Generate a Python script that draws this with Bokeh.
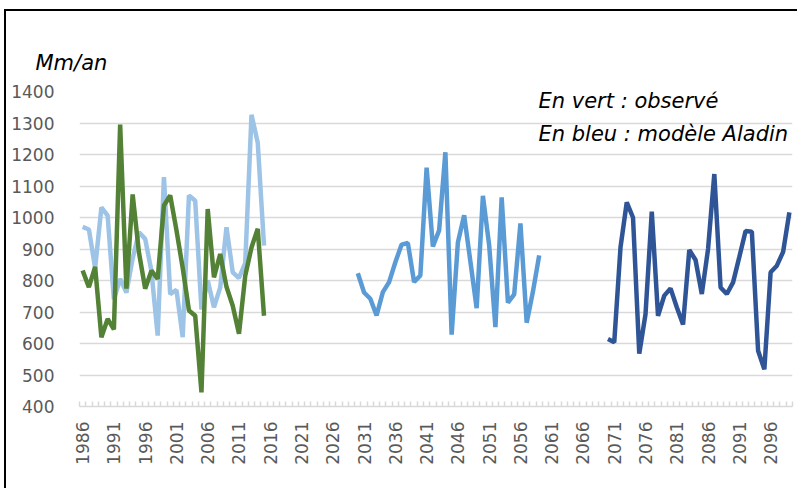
import math
from bokeh.plotting import figure
from bokeh.models import FixedTicker, Label, Range1d
from bokeh.embed import file_html
from bokeh.resources import INLINE

# ---- data ----
years_hist = list(range(1986, 2016))
model_hist = [970, 962, 840, 1032, 1006, 740, 805, 762, 870, 953,
              932, 830, 625, 1128, 757, 770, 620, 1070, 1053, 708,
              800, 715, 778, 969, 826, 808, 855, 1326, 1237, 911]
observed = [832, 779, 843, 620, 678, 645, 1295, 774, 1073, 890,
            774, 831, 805, 1038, 1070, 960, 840, 705, 688, 445,
            1027, 810, 884, 780, 720, 631, 815, 905, 964, 688]
years_mid = list(range(2030, 2060))
model_mid = [823, 762, 742, 689, 763, 795, 858, 914, 919, 795,
             816, 1158, 908, 959, 1207, 628, 921, 1007, 860, 712,
             1069, 912, 652, 1064, 730, 756, 981, 666, 765, 880]
years_end = list(range(2070, 2100))
model_end = [614, 604, 905, 1048, 1000, 568, 693, 1019, 688, 752,
             775, 715, 660, 897, 865, 757, 900, 1138, 778, 757,
             794, 875, 957, 955, 577, 518, 826, 847, 891, 1016]
tick_years = list(range(1986, 2100, 5))
y_ticks = list(range(400, 1500, 100))
first_year, last_year = 1986, 2099
unit_label = "Mm/an"
note_lines = ["En vert : observé", "En bleu : modèle Aladin"]

W, H = 793, 479
BL, BR, BT, BB = 73, 7, 80, 84
p = figure(width=W, height=H, output_backend="svg", toolbar_location=None,
           x_range=Range1d(first_year - 0.5, last_year + 0.5),
           y_range=Range1d(400, 1400),
           min_border_left=BL, min_border_right=BR,
           min_border_top=BT, min_border_bottom=BB,
           title=unit_label)
p.styles = {"margin-left": "4px", "margin-top": "9px",
            "border-left": "2px solid black", "border-top": "2px solid black"}
p.outline_line_color = None
p.background_fill_color = "white"
p.border_fill_color = "white"

p.title.text_font = "DejaVu Sans"
p.title.text_font_style = "italic"
p.title.text_font_size = "21px"
p.title.text_color = "black"
p.title.align = "left"
p.title.offset = -44
p.title.standoff = 33

GRID = "#d9d9d9"
LAB = "#595959"

# x axis
p.xaxis.ticker = FixedTicker(ticks=tick_years,
                             minor_ticks=[y + 0.5 for y in range(first_year - 1, last_year + 1)])
p.xaxis.major_tick_line_color = None
p.xaxis.major_tick_in = 0
p.xaxis.major_tick_out = 0
p.xaxis.minor_tick_line_color = GRID
p.xaxis.minor_tick_line_width = 1.5
p.xaxis.minor_tick_in = 5
p.xaxis.minor_tick_out = 0
p.xaxis.axis_line_color = GRID
p.xaxis.axis_line_width = 1.5
p.xaxis.major_label_orientation = math.pi / 2
p.xaxis.major_label_standoff = 15
p.xaxis.major_label_text_font = "DejaVu Sans"
p.xaxis.major_label_text_font_size = "17px"
p.xaxis.major_label_text_color = LAB

# y axis
p.yaxis.ticker = FixedTicker(ticks=y_ticks)
p.yaxis.axis_line_color = None
p.yaxis.major_tick_line_color = None
p.yaxis.minor_tick_line_color = None
p.yaxis.major_tick_in = 0
p.yaxis.major_tick_out = 0
p.yaxis.major_label_standoff = 25
p.yaxis.major_label_text_font = "DejaVu Sans"
p.yaxis.major_label_text_font_size = "17px"
p.yaxis.major_label_text_color = LAB

p.xgrid.grid_line_color = None
p.ygrid.grid_line_color = GRID
p.ygrid.grid_line_width = 1.5

LW = 4.5
p.line(years_hist, model_hist, line_color="#9dc3e6", line_width=LW)
p.line(years_hist, observed, line_color="#538135", line_width=LW)
p.line(years_mid, model_mid, line_color="#5b9bd5", line_width=LW)
p.line(years_end, model_end, line_color="#2f5597", line_width=LW)

px_per_year = (W - BL - BR) / (last_year - first_year + 1)
px_per_unit = (H - BT - BB) / 1000.0

def dx(cx):
    return first_year - 0.5 + (cx - BL) / px_per_year

def dy(cy):
    return 400 + (H - BB - cy) / px_per_unit

for txt, cy in zip(note_lines, [89.5, 122]):
    p.add_layout(Label(x=dx(532), y=dy(cy), text=txt, text_font="DejaVu Sans",
                       text_font_style="italic", text_font_size="21px",
                       text_color="black", text_baseline="alphabetic",
                       text_align="left"))

open("out.html", "w").write(file_html(p, INLINE))
